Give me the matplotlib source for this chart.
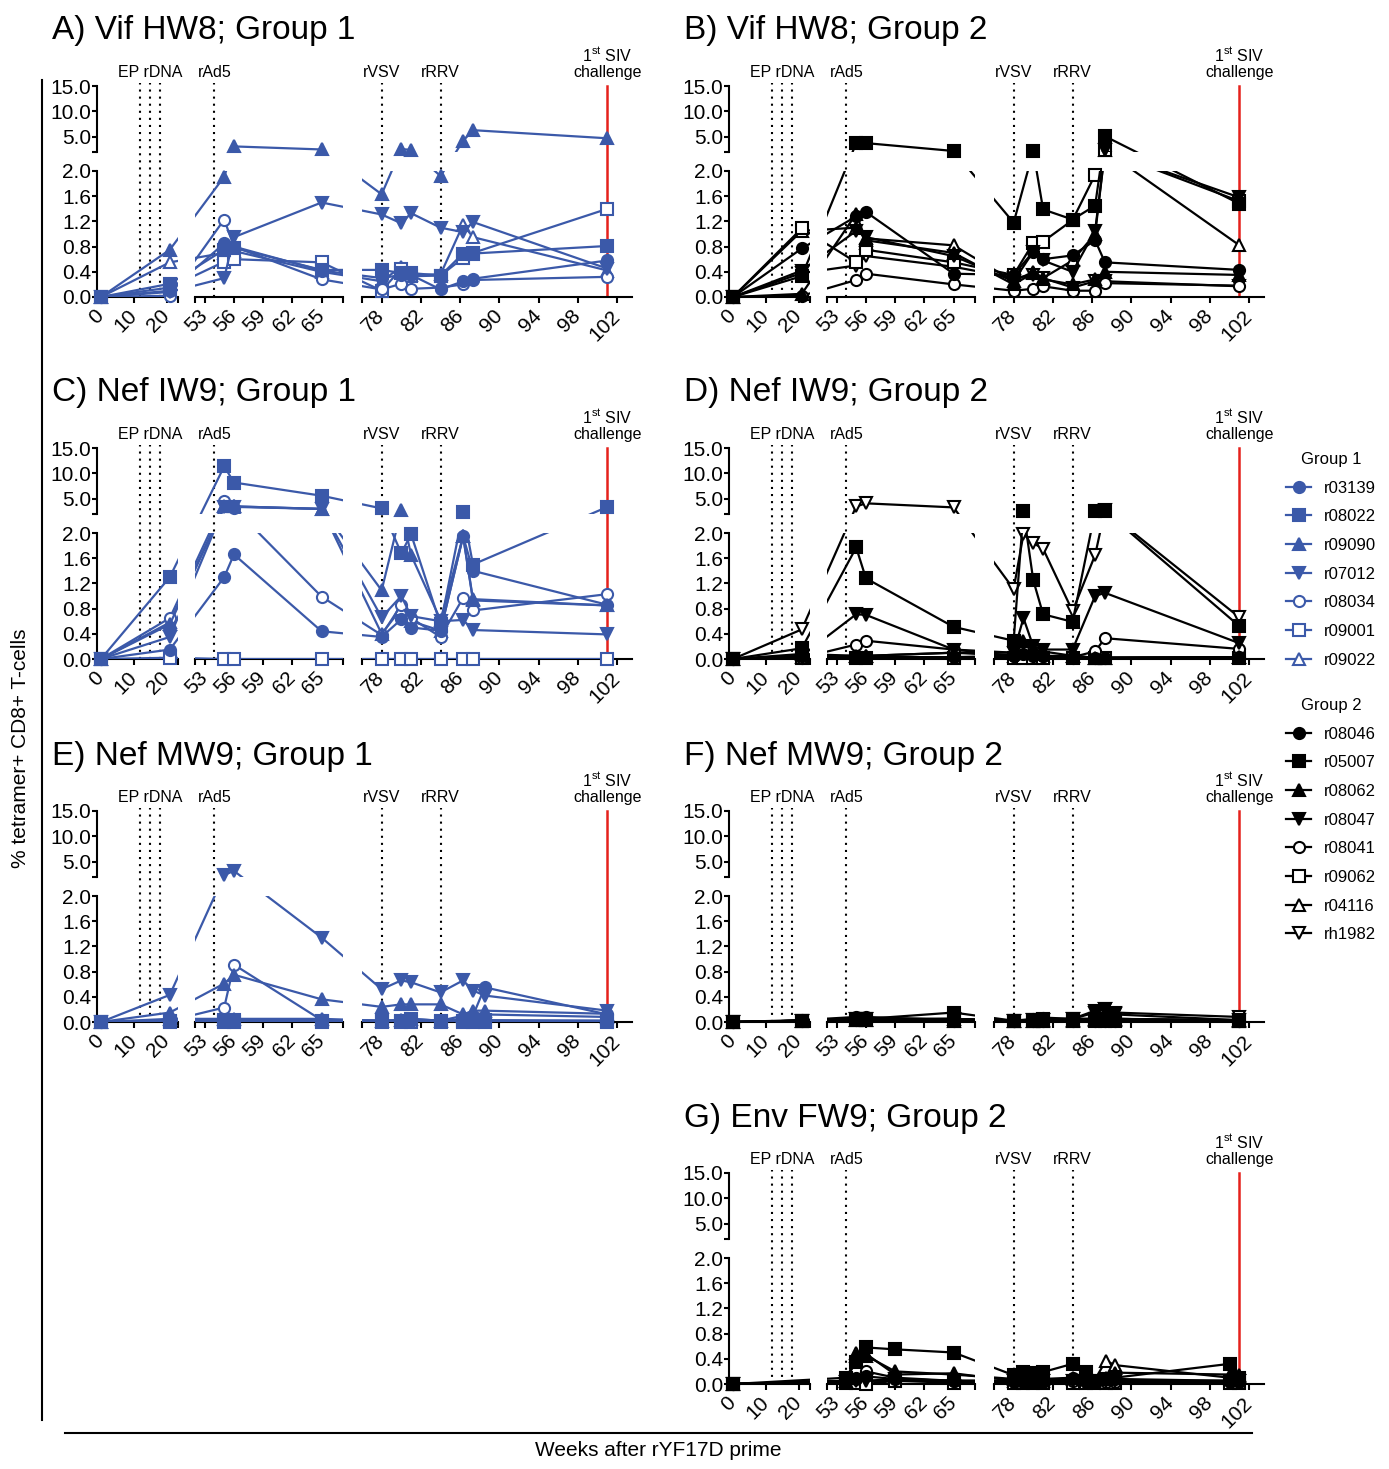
import matplotlib
matplotlib.use('Agg')
import matplotlib.pyplot as plt
from matplotlib.lines import Line2D
from matplotlib.path import Path
import numpy as np

plt.rcParams['font.family'] = ['Liberation Sans', 'DejaVu Sans']
plt.rcParams['mathtext.fontset'] = 'custom'
plt.rcParams['mathtext.rm'] = 'Liberation Sans'

W, H = 1389, 1469
BLUE = '#3B59A9'
RED = '#E5211C'

# animals and their symbols
group1 = ['r03139', 'r08022', 'r09090', 'r07012', 'r08034', 'r09001', 'r09022']
group1_marker = ['o', 's', '^', 'v', 'o', 's', '^']
group1_filled = [True, True, True, True, False, False, False]
group2 = ['r08046', 'r05007', 'r08062', 'r08047', 'r08041', 'r09062', 'r04116', 'rh1982']
group2_marker = ['o', 's', '^', 'v', 'o', 's', '^', 'v']
group2_filled = [True, True, True, True, False, False, False, False]

# broken x axis
seg_limits = [(-1.2, 23.5), (52, 67.2), (76, 103.5)]
seg_ticks = [[0, 10, 20], [53, 56, 59, 62, 65], [78, 82, 86, 90, 94, 98, 102]]
vacc_weeks = [[12, 15, 18], [54], [78, 84]]
vacc_labels = [[('EP rDNA', 15)], [('rAd5', 54)], [('rVSV', 78), ('rRRV', 84)]]
challenge_week = 101

# ---- A) Vif HW8; Group 1
weeks_A = [0, 21, 55, 56, 65, 78, 80, 81, 84, 86.3, 87.3, 101]
vif_g1 = {
    'r03139': [0, 0.10, 0.85, 0.80, 0.42, 0.30, 0.35, 0.35, 0.12, 0.25, 0.29, 0.58],
    'r08022': [0, 0.21, 0.75, 0.78, 0.43, 0.43, 0.38, 0.38, 0.34, 0.69, 0.69, 0.81],
    'r09090': [0, 0.75, 1.91, 3.1, 2.5, 1.63, 2.6, 2.4, 1.92, 4.2, 6.3, 4.7],
    'r07012': [0, 0.08, 0.30, 0.95, 1.50, 1.31, 1.17, 1.33, 1.10, 1.03, 1.19, 0.45],
    'r08034': [0, 0.02, 1.23, 0.80, 0.28, 0.12, 0.21, 0.13, 0.15, 0.20, 0.27, 0.32],
    'r09001': [0, 0.15, 0.56, 0.60, 0.55, 0.10, 0.45, 0.33, 0.34, 0.62, 0.70, 1.40],
    'r09022': [0, 0.55, 0.70, 0.73, 0.40, 0.25, 0.48, 0.35, 0.36, 1.15, 0.95, 0.42],
}

# ---- B) Vif HW8; Group 2
weeks_B = [0, 21, 55, 56, 65, 78, 80, 81, 84, 86.3, 87.3, 101]
vif_g2 = {
    'r08046': [0, 0.77, 1.28, 1.35, 0.37, 0.35, 0.72, 0.60, 0.66, 0.90, 0.55, 0.43],
    'r05007': [0, 0.33, 3.75, 3.75, 2.2, 1.18, 2.2, 1.39, 1.23, 1.45, 5.1, 1.48],
    'r08062': [0, 0.05, 1.32, 0.90, 0.70, 0.20, 0.38, 0.28, 0.20, 0.28, 0.40, 0.35],
    'r08047': [0, 0.42, 1.05, 0.95, 0.65, 0.25, 0.72, 0.58, 0.40, 1.05, 2.3, 1.58],
    'r08041': [0, 0.02, 0.27, 0.37, 0.20, 0.10, 0.13, 0.17, 0.10, 0.10, 0.22, 0.18],
    'r09062': [0, 1.09, 0.55, 0.75, 0.55, 0.35, 0.86, 0.88, 1.22, 1.94, 2.3, 1.52],
    'r04116': [0, 1.05, 1.10, 0.93, 0.82, 0.25, 0.40, 0.30, 0.58, 1.00, 2.3, 0.82],
    'rh1982': [0, 0.38, 0.50, 0.65, 0.48, 0.30, 0.35, 0.30, 0.15, 0.25, 0.25, 0.17],
}

# ---- C) Nef IW9; Group 1
weeks_C = [0, 21, 55, 56, 65, 78, 80, 81, 84, 86.3, 87.3, 101]
iw9_g1 = {
    'r03139': [0, 0.15, 1.30, 1.66, 0.44, 0.35, 0.63, 0.50, 0.45, 1.95, 1.40, 0.86],
    'r08022': [0, 1.30, 11.4, 8.2, 5.6, 3.1, 1.68, 1.98, 0.55, 2.4, 1.50, 3.4],
    'r09090': [0, 0.55, 3.5, 3.5, 3.0, 1.09, 2.8, 1.65, 0.62, 1.95, 0.93, 0.85],
    'r07012': [0, 0.35, 3.4, 3.4, 3.0, 0.66, 1.00, 0.68, 0.60, 0.62, 0.46, 0.39],
    'r08034': [0, 0.65, 4.5, 3.2, 0.99, 0.38, 0.86, 0.65, 0.35, 0.97, 0.77, 1.03],
    'r09001': [0, 0.02, 0, 0, 0, 0, 0, 0, 0, 0, 0, 0],
    'r09022': [0, 0.58, 3.6, 3.5, 3.0, 0.40, 0.80, 0.60, 0.45, 1.95, 0.95, 0.85],
}

# ---- D) Nef IW9; Group 2
weeks_D = [0, 21, 55, 56, 65, 78, 79, 80, 81, 84, 86.3, 87.3, 101]
iw9_g2 = {
    'r08046': [0, 0.05, 0.05, 0.03, 0.03, 0.05, 0.08, 0.05, 0.05, 0.02, 0.02, 0.02, 0.03],
    'r05007': [0, 0.17, 1.77, 1.28, 0.51, 0.29, 2.5, 1.25, 0.71, 0.59, 2.5, 2.6, 0.52],
    'r08062': [0, 0.08, 0.05, 0.05, 0.10, 0.10, 0.28, 0.15, 0.12, 0.05, 0.02, 0.02, 0.03],
    'r08047': [0, 0.05, 0.71, 0.70, 0.15, 0.10, 0.65, 0.20, 0.15, 0.15, 1.00, 1.05, 0.25],
    'r08041': [0, 0.02, 0.23, 0.29, 0.15, 0.05, 0.15, 0.10, 0.05, 0.03, 0.12, 0.33, 0.16],
    'r09062': [0, 0.02, 0.02, 0.02, 0.02, 0.02, 0.02, 0.02, 0.02, 0.02, 0.02, 0.02, 0.02],
    'r04116': [0, 0.03, 0.05, 0.05, 0.10, 0.05, 0.10, 0.05, 0.05, 0.05, 0.02, 0.02, 0.03],
    'rh1982': [0, 0.47, 3.5, 4.1, 3.3, 1.11, 1.98, 1.84, 1.75, 0.76, 1.65, 2.8, 0.66],
}

# ---- E) Nef MW9; Group 1
weeks_E = [0, 21, 55, 56, 65, 78, 80, 81, 84, 86.3, 87.3, 88.5, 101]
mw9_g1 = {
    'r03139': [0, 0.02, 0.03, 0.03, 0.03, 0.02, 0.03, 0.03, 0.02, 0.05, 0.10, 0.55, 0.12],
    'r08022': [0, 0.02, 0.03, 0.03, 0.02, 0.02, 0.02, 0.05, 0.02, 0.02, 0.03, 0.03, 0.02],
    'r09090': [0, 0.15, 0.61, 0.75, 0.36, 0.24, 0.28, 0.28, 0.28, 0.12, 0.18, 0.18, 0.13],
    'r07012': [0, 0.43, 2.4, 3.2, 1.34, 0.52, 0.66, 0.63, 0.47, 0.66, 0.50, 0.42, 0.18],
    'r08034': [0, 0.02, 0.23, 0.91, 0.03, 0.02, 0.02, 0.02, 0.02, 0.02, 0.02, 0.02, 0.02],
    'r09001': [0, 0.0, 0.0, 0.0, 0.0, 0.0, 0.0, 0.0, 0.0, 0.0, 0.0, 0.0, 0.0],
    'r09022': [0, 0.05, 0.05, 0.05, 0.05, 0.02, 0.03, 0.05, 0.02, 0.10, 0.15, 0.12, 0.08],
}

# ---- F) Nef MW9; Group 2
weeks_F = [0, 21, 55, 56, 65, 78, 80, 81, 84, 86.3, 87.3, 88.3, 101]
mw9_g2 = {
    'r08046': [0, 0.03, 0.08, 0.08, 0.03, 0.02, 0.05, 0.07, 0.05, 0.05, 0.05, 0.05, 0.02],
    'r05007': [0, 0.02, 0.05, 0.05, 0.15, 0.02, 0.03, 0.05, 0.05, 0.05, 0.05, 0.05, 0.02],
    'r08062': [0, 0.02, 0.03, 0.03, 0.05, 0.02, 0.02, 0.03, 0.03, 0.03, 0.03, 0.03, 0.02],
    'r08047': [0, 0.02, 0.05, 0.05, 0.05, 0.02, 0.03, 0.03, 0.05, 0.15, 0.20, 0.12, 0.03],
    'r08041': [0, 0.02, 0.03, 0.03, 0.02, 0.02, 0.02, 0.02, 0.02, 0.02, 0.02, 0.02, 0.02],
    'r09062': [0, 0.02, 0.03, 0.03, 0.02, 0.02, 0.02, 0.02, 0.02, 0.02, 0.02, 0.02, 0.02],
    'r04116': [0, 0.02, 0.03, 0.03, 0.02, 0.02, 0.02, 0.02, 0.02, 0.05, 0.05, 0.05, 0.03],
    'rh1982': [0, 0.02, 0.05, 0.05, 0.05, 0.02, 0.03, 0.03, 0.05, 0.18, 0.20, 0.15, 0.08],
}

# ---- G) Env FW9; Group 2
weeks_G = [0, 54, 55, 56, 59, 65, 78, 79, 80, 81, 84, 85.4, 86.2, 87.4, 88.3, 100, 101]
fw9_g2 = {
    'r08046': [0, 0.05, 0.10, 0.12, 0.08, 0.05, 0.05, 0.05, 0.05, 0.05, 0.10, 0.05, 0.05, 0.08, 0.08, 0.05, 0.05],
    'r05007': [0, 0.10, 0.35, 0.58, 0.55, 0.50, 0.14, 0.19, 0.17, 0.19, 0.32, 0.19, 0.03, 0.08, 0.10, 0.32, 0.10],
    'r08062': [0, 0.05, 0.45, 0.45, 0.20, 0.15, 0.08, 0.08, 0.05, 0.08, 0.10, 0.08, 0.05, 0.10, 0.18, 0.15, 0.12],
    'r08047': [0, 0.03, 0.05, 0.05, 0.08, 0.05, 0.05, 0.05, 0.05, 0.05, 0.05, 0.05, 0.05, 0.05, 0.05, 0.05, 0.05],
    'r08041': [0, 0.05, 0.08, 0.20, 0.10, 0.05, 0.03, 0.03, 0.03, 0.03, 0.05, 0.03, 0.03, 0.03, 0.03, 0.03, 0.03],
    'r09062': [0, 0.02, 0.02, 0.0, 0.05, 0.02, 0.02, 0.02, 0.02, 0.02, 0.02, 0.02, 0.02, 0.02, 0.02, 0.02, 0.02],
    'r04116': [0, 0.05, 0.50, 0.48, 0.15, 0.17, 0.05, 0.05, 0.05, 0.05, 0.08, 0.05, 0.05, 0.37, 0.30, 0.10, 0.15],
    'rh1982': [0, 0.03, 0.03, 0.05, 0.05, 0.05, 0.05, 0.05, 0.05, 0.05, 0.05, 0.05, 0.05, 0.05, 0.05, 0.05, 0.05],
}


def rect(x, y, w, h):
    # pixel box (top-left origin) -> figure fraction
    return [x / W, 1 - (y + h) / H, w / W, h / H]


def piecewise(xk, yk):
    xk, yk = np.asarray(xk, float), np.asarray(yk, float)

    def f(v):
        v = np.asarray(v, float)
        out = np.interp(v, xk, yk)
        out = np.where(v < xk[0], yk[0] + (v - xk[0]) * (yk[1] - yk[0]) / (xk[1] - xk[0]), out)
        out = np.where(v > xk[-1], yk[-1] + (v - xk[-1]) * (yk[-1] - yk[-2]) / (xk[-1] - xk[-2]), out)
        return out
    return f


fig = plt.figure(figsize=(W / 100, H / 100), dpi=100)

SEG_PX = [(0, 81), (98, 246), (265, 535)]
PANEL_W = 535
TOP_H, GAP, BOT_H = 66, 19, 126
PANEL_H = TOP_H + GAP + BOT_H

# broken-axis mappings (GraphPad style: straight lines in screen space, hidden in the gaps)
X_KNOTS = [seg_limits[0][0], seg_limits[0][1], seg_limits[1][0], seg_limits[1][1],
           seg_limits[2][0], seg_limits[2][1]]
X_PX = [p for seg in SEG_PX for p in seg]
Y_KNOTS = [0, 2, 2.0001, 15]
Y_PX = [0, BOT_H, BOT_H + GAP, PANEL_H]

# clip path: the six visible blocks, in axes fraction
_verts, _codes = [], []
for sx0, sx1 in SEG_PX:
    for by0, by1 in ((-4, BOT_H), (BOT_H + GAP, PANEL_H + 2)):
        x_a, x_b = sx0 / PANEL_W, sx1 / PANEL_W
        y_a, y_b = by0 / PANEL_H, by1 / PANEL_H
        _verts += [(x_a, y_a), (x_b, y_a), (x_b, y_b), (x_a, y_b), (x_a, y_a)]
        _codes += [Path.MOVETO, Path.LINETO, Path.LINETO, Path.LINETO, Path.CLOSEPOLY]
CLIP = Path(_verts, _codes)


def draw_panel(x0, ytop, title, weeks, data, names, markers, filled, color):
    fig.text((x0 - 45) / W, 1 - (ytop - 55) / H, title, fontsize=24, va='center', ha='left')
    for i, (sx0, sx1) in enumerate(SEG_PX):
        w = sx1 - sx0
        xlo, xhi = seg_limits[i]
        # overlay for vaccination / challenge lines
        ov = fig.add_axes(rect(x0 + sx0, ytop - 3, w, PANEL_H + 3))
        ov.set_xlim(xlo, xhi)
        ov.set_ylim(0, 1)
        ov.axis('off')
        for wk in vacc_weeks[i]:
            ov.axvline(wk, color='black', lw=1.5, ls=(0, (1, 2.4)))
        for txt, wk in vacc_labels[i]:
            ov.text(wk, 1.05, txt, ha='center', va='center', fontsize=11.5, clip_on=False)
        if i == 2:
            ov.axvline(challenge_week, ymax=PANEL_H / (PANEL_H + 3), color=RED, lw=1.8)
            ov.text(challenge_week, 1.05, 'challenge', ha='center', va='center', fontsize=11.5)
            ov.text(challenge_week, 1.13, r'1$^{\rm st}$ SIV', ha='center', va='center', fontsize=11.5)

        # axis segments with ticks
        ax_top = fig.add_axes(rect(x0 + sx0, ytop, w, TOP_H))
        ax_bot = fig.add_axes(rect(x0 + sx0, ytop + TOP_H + GAP, w, BOT_H))
        ax_top.set_ylim(2, 15)
        ax_bot.set_ylim(0, 2)
        for ax in (ax_top, ax_bot):
            ax.set_xlim(xlo, xhi)
            ax.patch.set_visible(False)
            for s in ax.spines.values():
                s.set_visible(False)
                s.set_linewidth(1.5)
        ax_top.set_xticks([])
        ax_top.set_yticks([])
        ax_bot.spines['bottom'].set_visible(True)
        ax_bot.set_xticks(seg_ticks[i])
        ax_bot.set_xticklabels([str(t) for t in seg_ticks[i]], rotation=45, ha='right',
                               va='center', rotation_mode='anchor', fontsize=15)
        ends = {0: [xhi], 1: [xlo, xhi], 2: [xlo]}[i]
        ax_bot.set_xticks(ends, minor=True)
        ax_bot.tick_params(axis='x', which='both', direction='out', length=4.5, width=1.5, pad=7)
        if i == 0:
            for ax in (ax_top, ax_bot):
                ax.spines['left'].set_visible(True)
                ax.tick_params(axis='y', direction='out', length=3.5, width=1.5, labelsize=15, pad=0.5)
            ax_top.set_yticks([2, 5, 10, 15])
            ax_top.set_yticklabels(['', '5.0', '10.0', '15.0'])
            ax_bot.set_yticks([0, 0.4, 0.8, 1.2, 1.6, 2.0])
            ax_bot.set_yticklabels(['0.0', '0.4', '0.8', '1.2', '1.6', '2.0'])
        else:
            ax_bot.set_yticks([])

    # data layer over the whole panel, on the broken scales
    ax = fig.add_axes(rect(x0, ytop, PANEL_W, PANEL_H))
    ax.set_xscale('function', functions=(piecewise(X_KNOTS, X_PX), piecewise(X_PX, X_KNOTS)))
    ax.set_yscale('function', functions=(piecewise(Y_KNOTS, Y_PX), piecewise(Y_PX, Y_KNOTS)))
    ax.set_xlim(X_KNOTS[0], X_KNOTS[-1])
    ax.set_ylim(0, 15)
    ax.axis('off')
    n = len(names)
    for k, name in enumerate(names):
        z = 2 + (n - k)  # first animal drawn on top
        line, = ax.plot(weeks, data[name], color=color, lw=1.6, zorder=z)
        line.set_clip_path(CLIP, ax.transAxes)
        ax.plot(weeks, data[name], ls='none', marker=markers[k], ms=8,
                mfc=color if filled[k] else 'white', mec=color, mew=1.5,
                clip_on=False, zorder=z + 0.5)


COL_X = [97, 729]
ROW_Y = [86, 448, 811, 1173]

draw_panel(COL_X[0], ROW_Y[0], 'A) Vif HW8; Group 1', weeks_A, vif_g1, group1, group1_marker, group1_filled, BLUE)
draw_panel(COL_X[1], ROW_Y[0], 'B) Vif HW8; Group 2', weeks_B, vif_g2, group2, group2_marker, group2_filled, 'black')
draw_panel(COL_X[0], ROW_Y[1], 'C) Nef IW9; Group 1', weeks_C, iw9_g1, group1, group1_marker, group1_filled, BLUE)
draw_panel(COL_X[1], ROW_Y[1], 'D) Nef IW9; Group 2', weeks_D, iw9_g2, group2, group2_marker, group2_filled, 'black')
draw_panel(COL_X[0], ROW_Y[2], 'E) Nef MW9; Group 1', weeks_E, mw9_g1, group1, group1_marker, group1_filled, BLUE)
draw_panel(COL_X[1], ROW_Y[2], 'F) Nef MW9; Group 2', weeks_F, mw9_g2, group2, group2_marker, group2_filled, 'black')
draw_panel(COL_X[1], ROW_Y[3], 'G) Env FW9; Group 2', weeks_G, fw9_g2, group2, group2_marker, group2_filled, 'black')

# shared axis titles and frame lines
fig.text(21 / W, 1 - 748 / H, '% tetramer+ CD8+ T-cells', rotation=90, ha='center', va='center', fontsize=15)
fig.text(658 / W, 1 - 1451 / H, 'Weeks after rYF17D prime', ha='center', va='center', fontsize=15)
fig.add_artist(Line2D([42 / W, 42 / W], [1 - 80 / H, 1 - 1420 / H], color='black', lw=1.5))
fig.add_artist(Line2D([65 / W, 1252 / W], [1 - 1433 / H, 1 - 1433 / H], color='black', lw=1.5))


# legends
def handles(markers, filled, color):
    return [Line2D([], [], color=color, lw=1.6, marker=m, ms=8, mew=1.5,
                   mfc=color if f else 'white', mec=color) for m, f in zip(markers, filled)]


leg_kw = dict(loc='upper left', frameon=False, fontsize=12, title_fontsize=12, handlelength=1.5,
              handletextpad=0.8, labelspacing=0.82, borderpad=0, borderaxespad=0)
fig.legend(handles(group1_marker, group1_filled, BLUE), group1, title='Group 1',
           bbox_to_anchor=(1286 / W, 1 - 452 / H), **leg_kw)
fig.legend(handles(group2_marker, group2_filled, 'black'), group2, title='Group 2',
           bbox_to_anchor=(1286 / W, 1 - 698 / H), **leg_kw)

plt.savefig('out.png', dpi=100)
